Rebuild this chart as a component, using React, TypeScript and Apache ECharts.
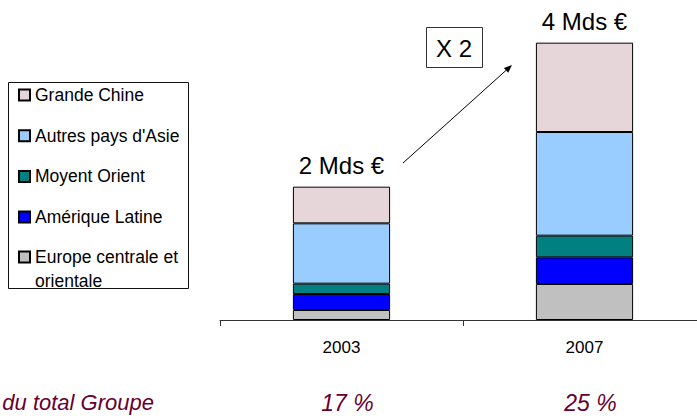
import React, { useEffect, useRef } from "react";
import * as echarts from "echarts";

const years = ["2003", "2007"];
const shares = ["17 %", "25 %"];
const totals = ["2 Mds €", "4 Mds €"];
const europe = [0.15, 0.54];
const ameriqueLatine = [0.24, 0.4];
const moyentOrient = [0.155, 0.325];
const autresAsie = [0.905, 1.555];
const grandeChine = [0.55, 1.34];

const FONT = "Arial, 'Liberation Sans', sans-serif";
const MAROON = "#660033";

export default function App() {
  const ref = useRef<HTMLDivElement>(null);
  useEffect(() => {
    if (!ref.current) return;
    const chart = echarts.init(ref.current, null, { renderer: "svg" });
    const border = { borderColor: "#000", borderWidth: 1 };
    const mk = (name: string, data: number[], color: string, extra: any = {}) => ({
      name,
      type: "bar",
      stack: "total",
      barWidth: "40%",
      data,
      itemStyle: { color, ...border },
      emphasis: { disabled: true },
      ...extra,
    });
    const legendCommon = {
      orient: "vertical",
      left: 18,
      padding: 0,
      itemWidth: 11,
      itemHeight: 11,
      icon: "rect",
      selectedMode: false,
      textStyle: { fontSize: 17.5, lineHeight: 24, color: "#000", fontFamily: FONT },
    };
    // arrow geometry
    const x1 = 403, y1 = 163, x2 = 512, y2 = 65;
    const len = Math.hypot(x2 - x1, y2 - y1);
    const ux = (x2 - x1) / len, uy = (y2 - y1) / len;
    const hl = 8, hw = 3.2;
    const bx = x2 - hl * ux, by = y2 - hl * uy;
    chart.setOption({
      animation: false,
      textStyle: { fontFamily: FONT },
      grid: { left: 220, width: 486, top: 20, bottom: 100, outerBoundsMode: "none", containLabel: false },
      legend: [
        {
          ...legendCommon,
          top: 83,
          itemGap: 16.7,
          data: ["Grande Chine", "Autres pays d'Asie", "Moyent Orient", "Amérique Latine"],
        },
        {
          ...legendCommon,
          top: 221,
          data: ["Europe centrale et orientale"],
          formatter: () => "\nEurope centrale et\norientale",
        },
      ],
      xAxis: {
        type: "category",
        data: years,
        axisLine: { lineStyle: { color: "#333", width: 1 } },
        axisTick: { show: true, length: 6, lineStyle: { color: "#333", width: 1 } },
        axisLabel: {
          interval: 0,
          margin: 17,
          formatter: (v: string, i: number) => `{y|${v}}\n{p|${shares[i]}}`,
          rich: {
            y: { fontSize: 17, lineHeight: 20, color: "#000", fontFamily: FONT },
            p: {
              fontSize: 23,
              lineHeight: 91,
              fontStyle: "italic",
              color: MAROON,
              fontFamily: FONT,
              padding: [0, 0, 0, 12],
            },
          },
        },
      },
      yAxis: { type: "value", min: 0, max: 4.5, show: false },
      series: [
        mk("Europe centrale et orientale", europe, "#C0C0C0"),
        mk("Amérique Latine", ameriqueLatine, "#0000FF"),
        mk("Moyent Orient", moyentOrient, "#008080"),
        mk("Autres pays d'Asie", autresAsie, "#99CCFF"),
        mk("Grande Chine", grandeChine, "#E6D6D9", {
          label: {
            show: true,
            position: "top",
            distance: 9,
            fontSize: 24,
            color: "#000",
            fontFamily: FONT,
            formatter: (p: any) => totals[p.dataIndex],
          },
        }),
      ],
      graphic: [
        {
          type: "rect",
          shape: { x: 8.5, y: 82.5, width: 180, height: 206 },
          style: { fill: "none", stroke: "#111", lineWidth: 1 },
        },
        {
          type: "rect",
          shape: { x: 426.5, y: 27.5, width: 56, height: 40 },
          style: { fill: "#fff", stroke: "#333", lineWidth: 1 },
        },
        {
          type: "text",
          x: 454,
          y: 48,
          style: {
            text: "X 2",
            fontSize: 24,
            fontFamily: FONT,
            fill: "#000",
            align: "center",
            verticalAlign: "middle",
          },
        },
        {
          type: "line",
          shape: { x1, y1, x2: bx, y2: by },
          style: { stroke: "#000", lineWidth: 1 },
        },
        {
          type: "polygon",
          shape: {
            points: [
              [x2, y2],
              [bx - hw * uy, by + hw * ux],
              [bx + hw * uy, by - hw * ux],
            ],
          },
          style: { fill: "#000" },
        },
        {
          type: "text",
          x: 154,
          y: 402,
          style: {
            text: "du total Groupe",
            fontSize: 22,
            fontStyle: "italic",
            fontFamily: FONT,
            fill: MAROON,
            align: "right",
            verticalAlign: "middle",
          },
        },
      ],
    });
    return () => chart.dispose();
  }, []);
  return (
    <div
      ref={ref}
      style={{ position: "fixed", left: 0, top: 0, width: 697, height: 420, background: "#fff" }}
    />
  );
}
